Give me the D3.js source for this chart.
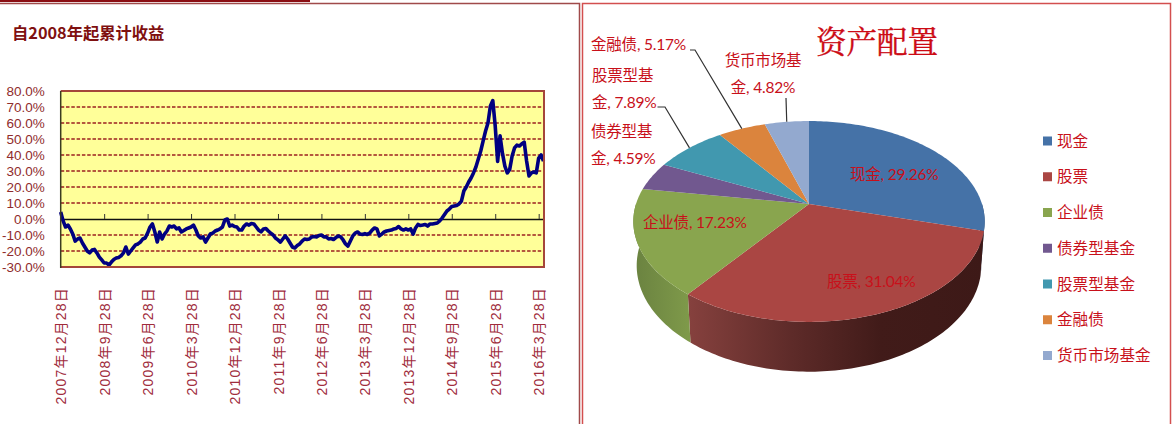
<!DOCTYPE html>
<html>
<head>
<meta charset="utf-8">
<script src="https://cdn.jsdelivr.net/npm/d3@7"></script>
<style>
    body { margin: 0; background: #fff; }
    svg { display: block; }
    text { font-family: "Lato", "Noto Sans CJK SC", sans-serif; }
    .left text { font-family: "Liberation Sans", "Noto Sans CJK SC", sans-serif; }
</style>
</head>
<body>
<svg id="chart"></svg>
<script>
const width = 1172;
const height = 424;

// cumulative return, one reading per half month from the start date
const navValues = [
    4.4, -1.2, -5, -3.8, -6.2, -9.4, -13.8, -12.5, -11.9, -15,
    -17.5, -20, -21.2, -19.4, -19, -21.2, -23.8, -25.6, -27.5, -27.5,
    -28.8, -26.9, -25.3, -24.4, -24, -23, -21.2, -17.5, -21.9, -20,
    -18.1, -16.2, -15.6, -14.4, -12.5, -11.9, -8.8, -5, -3.1, -8.1,
    -14.4, -8.1, -12.5, -9.4, -7.5, -4.4, -5, -4.4, -6.2, -5.6,
    -8.1, -7.2, -6.2, -5.6, -5, -3.8, -6.9, -10.6, -11.9, -11.2,
    -14.4, -11.9, -9.4, -8.8, -7.5, -6.9, -6.2, -5, -0.6, 0,
    -4.4, -3.8, -4.7, -5, -6.9, -6.9, -4.4, -3.1, -3.8, -2.8,
    -3.1, -5, -6.9, -8.1, -6.2, -5.9, -7.5, -8.8, -10, -11.9,
    -13.1, -14.4, -12.5, -10.6, -12.5, -15, -17.5, -18.1, -16.6, -15.6,
    -13.8, -12.5, -12.8, -12.5, -11.2, -10.9, -11.2, -10.3, -10, -11.2,
    -11.2, -12.5, -12.2, -12.8, -11.6, -10.6, -11.2, -13.1, -15.6, -16.9,
    -13.8, -10.6, -8.8, -8.1, -9.4, -9.7, -9.1, -9.7, -8.8, -6.9,
    -5.6, -6.2, -10.6, -9.4, -8.1, -7.5, -7.2, -6.9, -6.2, -5.9,
    -4.7, -6.2, -6.9, -6.2, -6.9, -6.2, -9.4, -5.6, -3.4, -4.1,
    -3.8, -3.4, -4.4, -3.1, -3.1, -2.8, -2.5, -1.2, 0.6, 2.8,
    5, 6.2, 7.8, 8.1, 8.4, 9.4, 11.2, 17.5, 20, 23.1,
    25.6, 28.8, 32.5, 37.5, 42.5, 48.8, 55, 60, 70.6, 74,
    58, 36, 52, 41, 33, 28.8, 31, 39.4, 44.4, 46.2,
    45.6, 46.9, 48.1, 36.2, 26.9, 28.8, 29.4, 28.8, 38.1, 40,
    36.2
];
const navMonths = 100;
const dateLabels = [
    "2007年12月28日", "2008年9月28日", "2009年6月28日", "2010年3月28日",
    "2010年12月28日", "2011年9月28日", "2012年6月28日", "2013年3月28日",
    "2013年12月28日", "2014年9月28日", "2015年6月28日", "2016年3月28日"
];
const labelStepMonths = 9;
const percentTicks = [-30, -20, -10, 0, 10, 20, 30, 40, 50, 60, 70, 80];

const assetNames = ["现金", "股票", "企业债", "债券型基金", "股票型基金", "金融债", "货币市场基金"];
const assetShares = [29.26, 31.04, 17.23, 4.59, 7.89, 5.17, 4.82];
const assetColors = ["#4572a7", "#aa4643", "#89a54e", "#71588f", "#4198af", "#db843d", "#93a9cf"];

const svg = d3.select("#chart")
    .attr("width", width)
    .attr("height", height)
    .attr("viewBox", `0 0 ${width} ${height}`);

// panel frames
svg.append("rect").attr("x", 0).attr("y", 0).attr("width", 310).attr("height", 2).attr("fill", "#8b0f14");
svg.append("path")
    .attr("d", "M0,3.5H579.5V424")
    .attr("fill", "none").attr("stroke", "#a04a4a").attr("stroke-width", 1.5);
svg.append("path")
    .attr("d", "M582.5,424V3.5H1170.5V424")
    .attr("fill", "none").attr("stroke", "#d34f4f").attr("stroke-width", 1.5);

// ---------- left: line chart ----------
const plot = { left: 60.7, right: 543.5, top: 91, bottom: 267 };
const left = svg.append("g").attr("class", "left");

left.append("text")
    .attr("x", 12).attr("y", 39)
    .attr("font-size", 16.3).attr("font-weight", "bold")
    .attr("fill", "#7f1010")
    .style("font-family", '"Noto Sans CJK SC", sans-serif')
    .text("自2008年起累计收益");

const xScale = d3.scaleLinear()
    .domain([0, navMonths])
    .range([plot.left, plot.right]);

const yScale = d3.scaleLinear()
    .domain([-30, 80])
    .range([plot.bottom, plot.top]);

left.append("rect")
    .attr("x", plot.left).attr("y", plot.top)
    .attr("width", plot.right - plot.left).attr("height", plot.bottom - plot.top)
    .attr("fill", "#ffff99");

const yAxis = d3.axisLeft(yScale)
    .tickValues(percentTicks)
    .tickFormat(d => d.toFixed(1) + "%")
    .tickSize(0)
    .tickPadding(16);

const yGroup = left.append("g")
    .attr("transform", `translate(${plot.left}, 0)`)
    .call(yAxis);
yGroup.select(".domain").remove();
yGroup.selectAll("text")
    .attr("font-size", 13.5)
    .attr("fill", "#8f2c2c")
    .style("font-family", '"Liberation Sans", sans-serif');

// dashed grid
left.append("g")
    .selectAll("line")
    .data(percentTicks.filter(d => d !== 0 && d !== 80 && d !== -30))
    .enter()
    .append("line")
    .attr("x1", plot.left).attr("x2", plot.right)
    .attr("y1", d => yScale(d)).attr("y2", d => yScale(d))
    .attr("stroke", "#9c2020")
    .attr("stroke-width", 1.5)
    .attr("stroke-dasharray", "3.5 1.8");

// zero line with the tick marks
const xAxis = d3.axisBottom(xScale)
    .tickValues(dateLabels.map((d, i) => i * labelStepMonths))
    .tickFormat("")
    .tickSizeInner(-5)
    .tickSizeOuter(0);

const xGroup = left.append("g")
    .attr("transform", `translate(0, ${yScale(0)})`)
    .call(xAxis);
xGroup.select(".domain").attr("stroke", "#111").attr("stroke-width", 1.5);
xGroup.selectAll("line").attr("stroke", "#333");

// date labels sit below the plot, read upwards
const labelAxis = d3.axisBottom(xScale)
    .tickValues(dateLabels.map((d, i) => i * labelStepMonths))
    .tickFormat((d, i) => dateLabels[i])
    .tickSize(0);

const labelGroup = left.append("g")
    .attr("transform", "translate(0, 287)")
    .call(labelAxis);
labelGroup.select(".domain").remove();
labelGroup.selectAll("text")
    .attr("transform", "rotate(-90)")
    .attr("text-anchor", "end")
    .attr("x", 0).attr("y", 0)
    .attr("dy", "0.36em")
    .attr("font-size", 14)
    .attr("letter-spacing", 1.2)
    .attr("fill", "#a02c3c");

const navLine = d3.line()
    .x((d, i) => xScale(i / 2))
    .y(d => yScale(d))
    .curve(d3.curveLinear);

left.append("path")
    .datum(navValues)
    .attr("d", navLine)
    .attr("fill", "none")
    .attr("stroke", "#000080")
    .attr("stroke-width", 3.6)
    .attr("stroke-linejoin", "round");

// plot border
left.append("path")
    .attr("d", `M${plot.left},${plot.top}H${plot.right + 0.5}V${plot.bottom}H${plot.left}`)
    .attr("fill", "none").attr("stroke", "#a5463a").attr("stroke-width", 2);
left.append("line")
    .attr("x1", plot.left).attr("x2", plot.left)
    .attr("y1", plot.top).attr("y2", plot.bottom + 1)
    .attr("stroke", "#3c3c20").attr("stroke-width", 1.5);

// ---------- right: 3D pie ----------
const pie3d = { cx: 809, cy: 204, rx: 173, ry: 97.4, tilt: 0.174, depth: 44.3, shrink: 0.019 };

// circle on the tilted disc to screen, h = 0 top face, h = 1 bottom rim
function project(theta, h) {
    const u = Math.sin(theta);
    const v = -Math.cos(theta);
    const w = 1 - pie3d.tilt * v + pie3d.shrink * h;
    return [pie3d.cx + pie3d.rx * u / w, pie3d.cy + (pie3d.ry * v + pie3d.depth * h) / w];
}

const arcPoints = (a0, a1, h) => {
    const n = Math.max(2, Math.ceil((a1 - a0) / 0.02));
    return d3.range(n + 1).map(i => project(a0 + (a1 - a0) * i / n, h));
};

const slices = d3.pie().sort(null)(assetShares);
const polygon = d3.line().curve(d3.curveLinearClosed);
const right = svg.append("g").attr("class", "right");
const defs = svg.append("defs");

const wallShades = [
    ["#2e4a6c", "#2e4a6c"],
    ["#86413e", "#3d1917"],
    ["#6a8240", "#7f9a4a"],
    ["#4c3a60", "#4c3a60"],
    ["#2c6676", "#2c6676"],
    ["#94592a", "#94592a"],
    ["#64728c", "#64728c"]
];

slices.forEach((s, i) => {
    const a0 = Math.max(s.startAngle, Math.PI / 2);
    const a1 = Math.min(s.endAngle, Math.PI * 3 / 2);
    if (a1 <= a0) return;
    const pts = arcPoints(a0, a1, 0).concat(arcPoints(a0, a1, 1).reverse());
    const xs = d3.extent(pts, p => p[0]);
    const grad = defs.append("linearGradient")
        .attr("id", `wall${i}`)
        .attr("gradientUnits", "userSpaceOnUse")
        .attr("x1", xs[0]).attr("x2", xs[1])
        .attr("y1", 0).attr("y2", 0);
    const stops = i === 1 ? [0, 0.35, 0.65, 1] : [0, 1];
    const mix = d3.interpolateRgb(wallShades[i][0], wallShades[i][1]);
    stops.forEach((t, k) => {
        const shade = i === 1 ? [0, 0.55, 0.95, 1][k] : t;
        grad.append("stop").attr("offset", t).attr("stop-color", mix(shade));
    });
    right.append("path")
        .attr("d", polygon(pts))
        .attr("fill", `url(#wall${i})`);
});

right.selectAll(".slice")
    .data(slices)
    .enter()
    .append("path")
    .attr("class", "slice")
    .attr("d", s => polygon([[pie3d.cx, pie3d.cy]].concat(arcPoints(s.startAngle, s.endAngle, 0))))
    .attr("fill", (s, i) => assetColors[i]);

// data labels, lines of each label and where its first baseline goes
const labelRed = "#c8101a";
const pieLabels = [
    { i: 0, x: 850, y: 180, anchor: "start", lines: ["现金, 29.26%"] },
    { i: 1, x: 827, y: 287, anchor: "start", lines: ["股票, 31.04%"] },
    { i: 2, x: 643, y: 228, anchor: "start", lines: ["企业债, 17.23%"] },
    { i: 3, x: 591, y: 137, anchor: "start", lines: ["债券型基", "金, 4.59%"] },
    { i: 4, x: 592, y: 81, anchor: "start", lines: ["股票型基", "金, 7.89%"], lead: [657.5, 107, 665] },
    { i: 5, x: 591, y: 50, anchor: "start", lines: ["金融债, 5.17%"], lead: [690, 50, 695] },
    { i: 6, x: 763, y: 66, anchor: "middle", lines: ["货币市场基", "金, 4.82%"], lead: [786, 98, 786] }
];

pieLabels.forEach(l => {
    const text = right.append("text")
        .attr("x", l.x).attr("y", l.y)
        .attr("text-anchor", l.anchor)
        .attr("font-size", 15.5)
        .attr("letter-spacing", -0.2)
        .attr("fill", labelRed);
    l.lines.forEach((line, k) => {
        text.append("tspan").attr("x", l.x).attr("dy", k === 0 ? 0 : 27).text(line);
    });
    if (l.lead) {
        const s = slices[l.i];
        const end = project((s.startAngle + s.endAngle) / 2, 0);
        right.append("path")
            .attr("d", d3.line()([[l.lead[0], l.lead[1]], [l.lead[2], l.lead[1]], end]))
            .attr("fill", "none")
            .attr("stroke", "#333")
            .attr("stroke-width", 1.2);
    }
});

right.append("text")
    .attr("x", 877).attr("y", 53)
    .attr("text-anchor", "middle")
    .attr("font-size", 30.5)
    .attr("fill", "#cc0a14")
    .attr("stroke", "#cc0a14")
    .attr("stroke-width", 0.4)
    .style("font-family", '"Noto Serif CJK SC", "Noto Sans CJK SC", serif')
    .text("资产配置");

// legend
const legendY = d3.scalePoint()
    .domain(assetNames)
    .range([141, 355.5]);

const legend = right.selectAll(".legend")
    .data(assetNames)
    .enter()
    .append("g")
    .attr("class", "legend")
    .attr("transform", d => `translate(1043, ${legendY(d)})`);

legend.append("rect")
    .attr("x", 0).attr("y", -4.5)
    .attr("width", 9).attr("height", 9)
    .attr("fill", (d, i) => assetColors[i]);

legend.append("text")
    .attr("x", 14).attr("dy", "0.36em")
    .attr("font-size", 15.6)
    .attr("fill", labelRed)
    .text(d => d);
</script>
</body>
</html>
